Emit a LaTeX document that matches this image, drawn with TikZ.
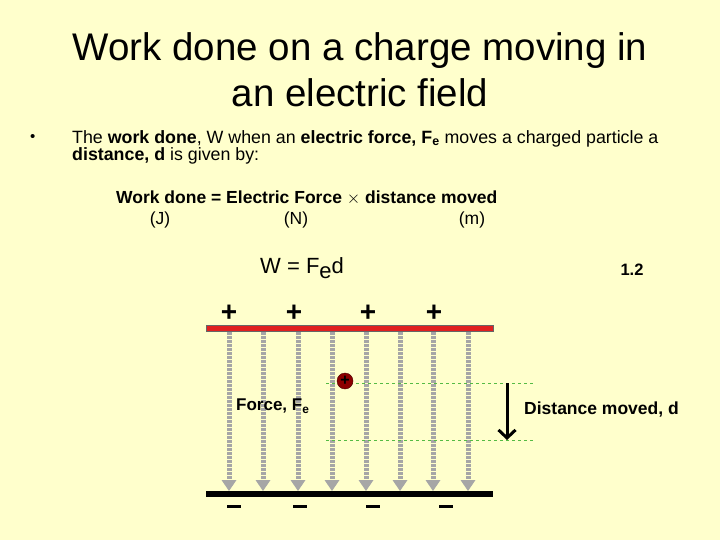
\documentclass[tikz,border=0pt]{standalone}
\usepackage{fontspec}
\setmainfont{Liberation Sans}
\usetikzlibrary{arrows.meta}
\definecolor{bg}{HTML}{FFFFCC}
\definecolor{fl}{HTML}{A6A6A6}
\definecolor{pl}{HTML}{E02020}
\definecolor{gl}{HTML}{55BB44}
\begin{document}
\begin{tikzpicture}[x=1pt,y=-1pt,
  txt/.style={inner sep=0,anchor=west},
  field/.style={fl,line width=5pt,dash pattern=on 2.5pt off 1.5pt,-{Triangle[width=15pt,length=11pt,fill=fl,line width=0pt]}},
  sgn/.style={font=\fontsize{28}{28}\selectfont\bfseries,inner sep=0}]
\fill[bg] (0,0) rectangle (720,540);
\useasboundingbox (0,0) rectangle (720,540);
\node[align=center,font=\fontsize{38.5}{46}\selectfont] (title) at (360,70) {Work done on a charge moving in\\an electric field};
\node[txt] (bul) at (30,138) {\fontsize{15}{15}\selectfont •};
\node[txt,align=left,font=\fontsize{17.8}{17}\selectfont] (intro) at (72,147) {The \textbf{work done}, W when an \textbf{electric force, F\textsubscript{e}} moves a charged particle a\\\textbf{distance, d} is given by:};
\node[txt,font=\fontsize{17.5}{17}\selectfont\bfseries] (eq1) at (116,198) {Work done = Electric Force {\normalfont$\times$} distance moved};
\node[font=\fontsize{17.5}{17}\selectfont] (u1) at (160,220) {(J)};
\node[font=\fontsize{17.5}{17}\selectfont] (u2) at (296,220) {(N)};
\node[font=\fontsize{17.5}{17}\selectfont] (u3) at (472,220) {(m)};
\node[txt,font=\fontsize{22}{22}\selectfont] (eq2) at (260,268) {W = F\raisebox{-5pt}{e}d};
\node[font=\fontsize{16.5}{17}\selectfont\bfseries] (num) at (632,270) {1.2};
\foreach \x/\n in {229/1,294/2,368/3,434/4}{\node[sgn] (p\n) at (\x,313) {+};}
\foreach \x/\n in {234/1,300/2,373/3,446/4}{\draw[line width=3pt] (\x-7,506) -- (\x+7,506);}
\node[draw=black!60,fill=pl,minimum width=287pt,minimum height=6pt,inner sep=0] (top) at (349.5,328.5) {};
\node[fill=black,minimum width=287pt,minimum height=6pt,inner sep=0] (bot) at (349.5,494) {};
\foreach \x in {229,263,298,332,366,400,433,468}{
  \coordinate (a\x) at (\x,332); \coordinate (b\x) at (\x,491);
  \draw[field] (a\x) -- (b\x);}
\draw[gl,dashed,line width=0.9pt] (326,383) -- (534,383);
\draw[gl,dashed,line width=0.9pt] (326,440) -- (534,440);
\node[circle,fill=red!55!black,draw=red!30!black,minimum size=16pt,inner sep=0,font=\bfseries\fontsize{16}{16}\selectfont] (q) at (345,381) {+};
\coordinate (d1) at (507,383); \coordinate (d2) at (507,440);
\draw[line width=3pt,-{Straight Barb[length=8pt,width=17pt,line width=3pt]}] (d1) -- (d2);
\node[txt,font=\fontsize{17}{17}\selectfont\bfseries] (force) at (236,406) {Force, F\textsubscript{e}};
\node[txt,font=\fontsize{17.5}{17}\selectfont\bfseries] (dist) at (524,410) {Distance moved, d};
\end{tikzpicture}
\end{document}
